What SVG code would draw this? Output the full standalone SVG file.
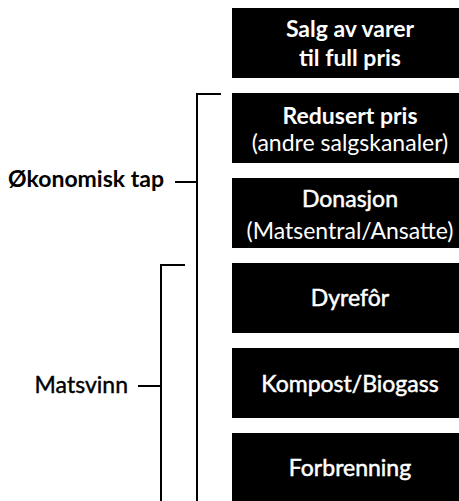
<svg xmlns="http://www.w3.org/2000/svg" width="459" height="501" viewBox="0 0 459 501">
<style>
.box{fill:#000;}
.bt{fill:#fff;font-family:Lato,"Open Sans",sans-serif;font-size:23px;text-anchor:middle;}
.b{font-weight:700;}
.m{font-weight:400;stroke-width:0.5;}
.bt.m{stroke:#fff;}
.lbl.m{stroke:#000;stroke-width:0.4;}
.r{font-weight:400;}
.lbl{fill:#000;font-family:Lato,"Open Sans",sans-serif;font-size:23px;text-anchor:end;}
.ln{fill:none;stroke:#000;stroke-width:2;}
</style>
<rect width="459" height="501" fill="#fff"/>
<g id="n1"><rect class="box" x="232" y="8" width="236" height="70"/><text class="bt b" x="350" y="37">Salg av varer</text><text class="bt b" x="350" y="66">til full pris</text></g>
<g id="n2"><rect class="box" x="232" y="93" width="236" height="70"/><text class="bt b" x="350" y="124">Redusert pris</text><text class="bt r" x="350" y="151">(andre salgskanaler)</text></g>
<g id="n3"><rect class="box" x="232" y="178" width="236" height="70"/><text class="bt m" x="350" y="207">Donasjon</text><text class="bt r" x="350" y="239">(Matsentral/Ansatte)</text></g>
<g id="n4"><rect class="box" x="232" y="263" width="236" height="70"/><text class="bt m" x="350" y="306">Dyrefôr</text></g>
<g id="n5"><rect class="box" x="232" y="348" width="236" height="70"/><text class="bt m" x="350" y="392">Kompost/Biogass</text></g>
<g id="n6"><rect class="box" x="232" y="433" width="236" height="72"/><text class="bt m" x="350" y="476">Forbrenning</text></g>
<g id="l1"><text class="lbl b" x="164" y="187">Økonomisk tap</text></g>
<g id="l2"><text class="lbl m" x="128" y="393">Matsvinn</text></g>
<g id="connectors">
<path class="ln" d="M221 94 H197 V503"/>
<path class="ln" d="M175 182 H197"/>
<path class="ln" d="M185 265 H161 V503"/>
<path class="ln" d="M138 386 H161"/>
</g>
</svg>
